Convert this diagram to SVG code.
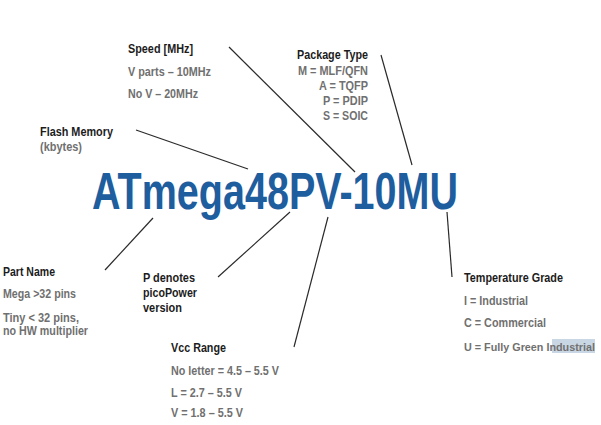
<svg xmlns="http://www.w3.org/2000/svg" width="601" height="425" viewBox="0 0 601 425">
<style>
text{font-family:"Liberation Sans",Arial,sans-serif;font-weight:bold}
.h{font-size:12.5px;fill:#1c1c1c}
.g{font-size:12px;fill:#707070}
.t{font-size:52px;fill:#1e5d9e}
.c line{stroke:#2a2a2a;stroke-width:1.2}
</style>
<rect width="601" height="425" fill="#fff"/>
<g id="title"><text class="t" x="92" y="209" textLength="366" lengthAdjust="spacingAndGlyphs">ATmega48PV-10MU</text></g>
<g class="c" id="connectors">
<line x1="229" y1="47" x2="355" y2="172"/>
<line x1="136" y1="130" x2="248" y2="169"/>
<line x1="381" y1="55" x2="412" y2="165"/>
<line x1="153" y1="218" x2="105" y2="270"/>
<line x1="290" y1="212" x2="218" y2="277"/>
<line x1="328" y1="217" x2="294" y2="347"/>
<line x1="447" y1="212" x2="452" y2="277"/>
</g>
<g id="speed">
<text class="h" x="128" y="53" textLength="65" lengthAdjust="spacingAndGlyphs">Speed [MHz]</text>
<text class="g" x="128" y="76" textLength="83" lengthAdjust="spacingAndGlyphs">V parts – 10MHz</text>
<text class="g" x="128" y="98" textLength="70" lengthAdjust="spacingAndGlyphs">No V – 20MHz</text>
</g>
<g id="flash">
<text class="h" x="40" y="136" textLength="73" lengthAdjust="spacingAndGlyphs">Flash Memory</text>
<text class="g" x="40" y="151" textLength="42" lengthAdjust="spacingAndGlyphs">(kbytes)</text>
</g>
<g id="package">
<text class="h" x="297" y="59" textLength="71" lengthAdjust="spacingAndGlyphs">Package Type</text>
<text class="g" x="298" y="75" textLength="70" lengthAdjust="spacingAndGlyphs">M = MLF/QFN</text>
<text class="g" x="319" y="90" textLength="49" lengthAdjust="spacingAndGlyphs">A = TQFP</text>
<text class="g" x="323" y="105" textLength="45" lengthAdjust="spacingAndGlyphs">P = PDIP</text>
<text class="g" x="323" y="120" textLength="45" lengthAdjust="spacingAndGlyphs">S = SOIC</text>
</g>
<g id="partname">
<text class="h" x="3" y="276" textLength="52" lengthAdjust="spacingAndGlyphs">Part Name</text>
<text class="g" x="3" y="298" textLength="73" lengthAdjust="spacingAndGlyphs">Mega &gt;32 pins</text>
<text class="g" x="3" y="322" textLength="76" lengthAdjust="spacingAndGlyphs">Tiny &lt; 32 pins,</text>
<text class="g" x="3" y="335" textLength="85" lengthAdjust="spacingAndGlyphs">no HW multiplier</text>
</g>
<g id="pico">
<text class="h" x="143" y="282" textLength="52" lengthAdjust="spacingAndGlyphs">P denotes</text>
<text class="h" x="143" y="297" textLength="54" lengthAdjust="spacingAndGlyphs">picoPower</text>
<text class="h" x="143" y="312" textLength="39" lengthAdjust="spacingAndGlyphs">version</text>
</g>
<g id="vcc">
<text class="h" x="171" y="352" textLength="55" lengthAdjust="spacingAndGlyphs">Vcc Range</text>
<text class="g" x="171" y="375" textLength="108" lengthAdjust="spacingAndGlyphs">No letter = 4.5 – 5.5 V</text>
<text class="g" x="171" y="397" textLength="71" lengthAdjust="spacingAndGlyphs">L = 2.7 – 5.5 V</text>
<text class="g" x="171" y="417" textLength="72" lengthAdjust="spacingAndGlyphs">V = 1.8 – 5.5 V</text>
</g>
<g id="temperature">
<rect x="552" y="339" width="43" height="14" fill="#c9d6e3"/>
<text class="h" x="464" y="282" textLength="99" lengthAdjust="spacingAndGlyphs">Temperature Grade</text>
<text class="g" x="464" y="305" textLength="64" lengthAdjust="spacingAndGlyphs">I = Industrial</text>
<text class="g" x="464" y="327" textLength="82" lengthAdjust="spacingAndGlyphs">C = Commercial</text>
<text class="g" x="464" y="351" style="font-size:11px" textLength="131" lengthAdjust="spacingAndGlyphs">U = Fully Green Industrial</text>
</g>
</svg>
